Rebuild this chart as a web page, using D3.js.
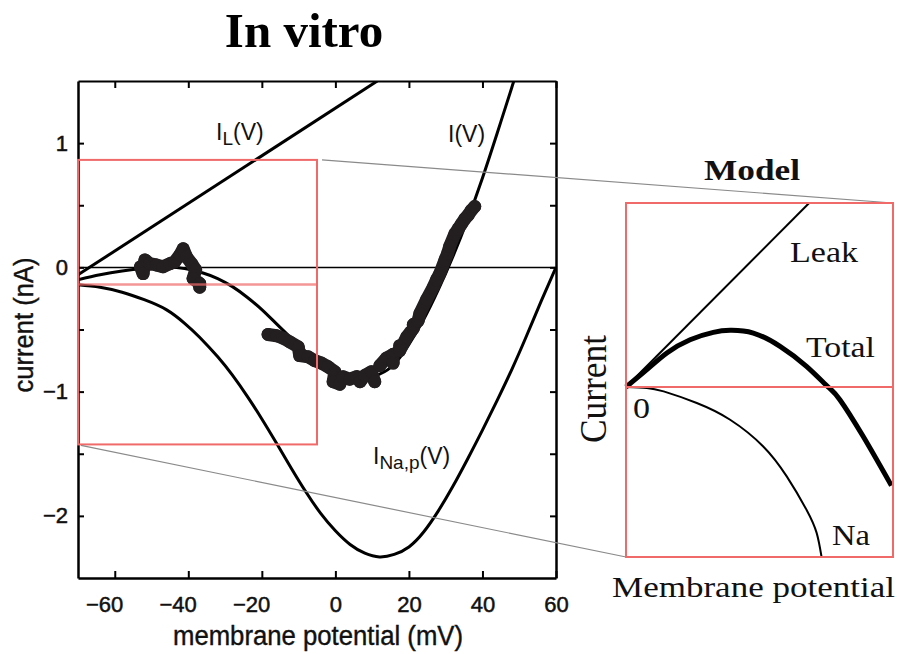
<!DOCTYPE html>
<html>
<head>
<meta charset="utf-8">
<script src="https://cdn.jsdelivr.net/npm/d3@7"></script>
<style>
body { margin: 0; background: #fff; }
svg { display: block; }
</style>
</head>
<body>
<div id="chart"></div>
<script>
// axis ticks
var xTicks = [-60, -40, -20, 0, 20, 40, 60];
var yTicks = [-2, -1.5, -1, -0.5, 0, 0.5, 1];

// leak current I_L(V), [mV, nA]
var leakCurve = [[-70, -0.06], [11.4, 1.5]];

// fitted steady-state I(V)
var totalCurve = [
  [-70, -0.10], [-64, -0.06], [-58, -0.03], [-52, -0.01], [-46, 0.0], [-41, -0.01],
  [-36, -0.045], [-32, -0.09], [-28, -0.155], [-24, -0.24], [-20, -0.34], [-16, -0.455],
  [-12, -0.57], [-8, -0.68], [-4, -0.77], [0, -0.84], [4, -0.88], [8, -0.89],
  [12, -0.86], [16, -0.78], [20, -0.62], [24, -0.42], [28, -0.18], [32, 0.09],
  [36, 0.39], [40, 0.72], [44, 1.08], [48, 1.45], [48.5, 1.5]
];

// persistent sodium current I_Na,p(V)
var naCurve = [
  [-70, -0.14], [-64, -0.16], [-58, -0.2], [-52, -0.26], [-46, -0.34], [-41, -0.45],
  [-37, -0.56], [-32, -0.72], [-28, -0.868], [-24, -1.036], [-20, -1.22], [-16, -1.416],
  [-12, -1.616], [-8, -1.808], [-4, -1.98], [0, -2.12], [4, -2.23], [8, -2.30],
  [12, -2.33], [16, -2.31], [20, -2.25], [24, -2.13], [28, -1.96], [32, -1.76],
  [36, -1.54], [40, -1.31], [44, -1.07], [48, -0.82], [52, -0.55], [56, -0.27], [60, 0.0]
];

// recorded ramp data (in vitro), in recording order
var rampData = [
  [-53.0, 0.005], [-52.3, -0.05], [-51.8, 0.06], [-50.5, 0.03], [-48.7, 0.02], [-46.9, 0.005],
  [-45.0, 0.03], [-43.7, 0.045], [-42.3, 0.10], [-41.4, 0.15], [-40.5, 0.085], [-39.1, 0.03],
  [-38.0, -0.02], [-38.7, -0.09], [-36.9, -0.13], [-36.9, -0.16],
  [-18.3, -0.54], [-16.0, -0.55], [-14.2, -0.57], [-12.4, -0.60], [-10.1, -0.64], [-9.7, -0.71],
  [-7.4, -0.72], [-5.6, -0.75], [-3.8, -0.77], [-2.0, -0.80], [-0.15, -0.84], [-0.6, -0.92],
  [1.2, -0.94], [2.1, -0.88], [3.9, -0.90], [5.8, -0.88], [6.7, -0.92], [8.0, -0.87],
  [9.8, -0.84], [10.7, -0.92], [12.1, -0.79], [13.9, -0.73], [15.7, -0.70], [15.7, -0.77],
  [17.5, -0.63], [17.5, -0.67], [19.4, -0.56], [21.2, -0.49], [21.2, -0.46], [22.5, -0.43],
  [23.0, -0.37], [24.8, -0.26], [26.6, -0.16], [27.5, -0.10], [28.4, -0.05], [29.8, 0.06],
  [30.5, 0.11], [31.1, 0.17], [32.5, 0.27], [33.4, 0.31], [34.3, 0.35], [35.2, 0.39],
  [36.1, 0.42], [37.0, 0.46], [37.9, 0.49]
];

// zoomed region (mV, nA)
var zoomV = [-70, -5];
var zoomI = [-1.425, 0.865];
var zoomLineI = -0.137;

// model inset, arbitrary units
var modelLeak = [[0, 0], [0.686, 1]];
var modelTotal = [
  [0, 0], [0.078, 0.094], [0.153, 0.185], [0.240, 0.257], [0.327, 0.297], [0.390, 0.308],
  [0.477, 0.293], [0.577, 0.221], [0.676, 0.112], [0.757, 0], [0.801, -0.069],
  [0.888, -0.268], [0.994, -0.536]
];
var modelNa = [
  [0, 0], [0.078, -0.005], [0.141, -0.024], [0.265, -0.087], [0.390, -0.178], [0.514, -0.323],
  [0.602, -0.486], [0.676, -0.667], [0.714, -0.793], [0.732, -0.92]
];

var width = 897, height = 654;
var sans = "'Liberation Sans', Arial, sans-serif";
var serif = "'Liberation Serif', 'Times New Roman', serif";
var red = "#f06a6a";

var svg = d3.select("#chart").append("svg")
    .attr("width", width)
    .attr("height", height);

var x = d3.scaleLinear().domain([-70, 60]).range([78, 556]);
var y = d3.scaleLinear().domain([-2.5, 1.5]).range([578, 81]);

var mx = d3.scaleLinear().domain([0, 1]).range([626, 893]);
var my = d3.scaleLinear().domain([-0.924, 1]).range([557, 203]);

svg.append("clipPath").attr("id", "plotclip")
  .append("rect")
    .attr("x", x(-70)).attr("y", y(1.5))
    .attr("width", x(60) - x(-70)).attr("height", y(-2.5) - y(1.5));

// title
svg.append("text")
    .attr("x", 304).attr("y", 47)
    .attr("text-anchor", "middle")
    .style("font-family", serif).style("font-weight", "bold").style("font-size", "49px")
    .text("In vitro");

// zero line
svg.append("line")
    .attr("x1", x(-70)).attr("x2", x(60))
    .attr("y1", y(0)).attr("y2", y(0))
    .style("stroke", "#000").style("stroke-width", 1.5);

// axes (inward ticks)
function styleAxis(g) {
  g.select(".domain").style("stroke", "#000").style("stroke-width", 2.5);
  g.selectAll(".tick line").style("stroke", "#000").style("stroke-width", 2);
}

function styleLabels(sel) {
  sel.style("font-family", sans).style("font-size", "22px")
     .style("fill", "#111").style("stroke", "#111").style("stroke-width", 0.5);
}

var fmt = function(d) { return d < 0 ? "\u2212" + Math.abs(d) : "" + d; };

var gBottom = svg.append("g")
    .attr("transform", "translate(0," + y(-2.5) + ")")
    .call(d3.axisBottom(x).tickValues(xTicks).tickSizeInner(-7).tickSizeOuter(0).tickFormat(fmt));
styleAxis(gBottom);
gBottom.selectAll("text")
    .attr("y", 34).attr("dy", null)
    .attr("text-anchor", function(d) { return d < 0 ? "end" : "middle"; })
    .attr("x", function(d) { return d < 0 ? 8 : 0; })
    .call(styleLabels);

var gTop = svg.append("g")
    .attr("transform", "translate(0," + y(1.5) + ")")
    .call(d3.axisTop(x).tickValues(xTicks).tickSizeInner(-7).tickSizeOuter(0).tickFormat(""));
styleAxis(gTop);
gTop.select(".domain").style("stroke-width", 2);

var gLeft = svg.append("g")
    .attr("transform", "translate(" + x(-70) + ",0)")
    .call(d3.axisLeft(y).tickValues(yTicks).tickSizeInner(-6).tickSizeOuter(0).tickPadding(10)
      .tickFormat(function(d) { return Number.isInteger(d) ? fmt(d) : ""; }));
styleAxis(gLeft);
gLeft.selectAll("text").call(styleLabels);

var gRight = svg.append("g")
    .attr("transform", "translate(" + x(60) + ",0)")
    .call(d3.axisRight(y).tickValues(yTicks).tickSizeInner(-6).tickSizeOuter(0).tickFormat(""));
styleAxis(gRight);

// axis titles
svg.append("text")
    .attr("x", 318).attr("y", 645)
    .attr("text-anchor", "middle")
    .attr("textLength", 290).attr("lengthAdjust", "spacingAndGlyphs")
    .style("font-family", sans).style("font-size", "27px").style("fill", "#111")
    .style("stroke", "#111").style("stroke-width", 0.4)
    .text("membrane potential (mV)");

svg.append("text")
    .attr("transform", "translate(33,325) rotate(-90)")
    .attr("text-anchor", "middle")
    .attr("textLength", 135).attr("lengthAdjust", "spacingAndGlyphs")
    .style("font-family", sans).style("font-size", "27px").style("fill", "#111")
    .style("stroke", "#111").style("stroke-width", 0.4)
    .text("current (nA)");

// curves
var line = d3.line()
    .x(function(d) { return x(d[0]); })
    .y(function(d) { return y(d[1]); })
    .curve(d3.curveNatural);

var plot = svg.append("g").attr("clip-path", "url(#plotclip)");

plot.selectAll(".curve")
    .data([leakCurve, totalCurve, naCurve])
  .enter().append("path")
    .attr("class", "curve")
    .attr("d", line)
    .style("fill", "none").style("stroke", "#000").style("stroke-width", 3);

// ramp data: thick band joining neighbouring samples, plus the samples
var band = d3.path();
rampData.forEach(function(d, i) {
  var px = x(d[0]), py = y(d[1]);
  if (i > 0) {
    var q = rampData[i - 1];
    var gap = Math.hypot(px - x(q[0]), py - y(q[1]));
    if (gap < 16) { band.lineTo(px, py); return; }
  }
  band.moveTo(px, py);
});
plot.append("path")
    .attr("d", band.toString())
    .style("fill", "none").style("stroke", "#231f20").style("stroke-width", 13)
    .style("stroke-linejoin", "round").style("stroke-linecap", "round");

plot.selectAll(".ramp")
    .data(rampData)
  .enter().append("circle")
    .attr("class", "ramp")
    .attr("cx", function(d) { return x(d[0]); })
    .attr("cy", function(d) { return y(d[1]); })
    .attr("r", 6.5)
    .style("fill", "#231f20");

// curve labels
function subLabel(px, py, main, sub, tail) {
  var t = svg.append("text")
      .attr("x", px).attr("y", py)
      .style("font-family", sans).style("font-size", "23px").style("fill", "#111");
  t.append("tspan").text(main);
  if (sub) {
    t.append("tspan").attr("dy", 5).style("font-size", "19px").text(sub);
    t.append("tspan").attr("dy", -5).text(tail);
  }
  return t;
}
subLabel(216, 140, "I", "L", "(V)");
subLabel(448, 142, "I(V)");
subLabel(373, 464, "I", "Na,p", "(V)");

// zoom box in main plot
svg.append("rect")
    .attr("x", x(zoomV[0])).attr("y", y(zoomI[1]))
    .attr("width", x(zoomV[1]) - x(zoomV[0]))
    .attr("height", y(zoomI[0]) - y(zoomI[1]))
    .style("fill", "none").style("stroke", red).style("stroke-width", 2);
svg.append("line")
    .attr("x1", x(zoomV[0])).attr("x2", x(zoomV[1]))
    .attr("y1", y(zoomLineI)).attr("y2", y(zoomLineI))
    .style("stroke", red).style("stroke-width", 2.5).style("opacity", 0.7);

// connector lines to the model inset
svg.append("line")
    .attr("x1", x(zoomV[1]) + 5).attr("y1", y(zoomI[1]))
    .attr("x2", mx(1)).attr("y2", my(1))
    .style("stroke", "#8a8a8a").style("stroke-width", 1.2);
svg.append("line")
    .attr("x1", x(zoomV[0]) + 3).attr("y1", y(zoomI[0]) + 1)
    .attr("x2", mx(0)).attr("y2", my(-0.924))
    .style("stroke", "#8a8a8a").style("stroke-width", 1.2);

// model inset
var mline = d3.line()
    .x(function(d) { return mx(d[0]); })
    .y(function(d) { return my(d[1]); })
    .curve(d3.curveNatural);

svg.append("path").attr("d", mline(modelLeak))
    .style("fill", "none").style("stroke", "#000").style("stroke-width", 2);
svg.append("path").attr("d", mline(modelNa))
    .style("fill", "none").style("stroke", "#000").style("stroke-width", 2);
svg.append("path").attr("d", mline(modelTotal))
    .style("fill", "none").style("stroke", "#000").style("stroke-width", 5);

svg.append("rect")
    .attr("x", mx(0)).attr("y", my(1))
    .attr("width", mx(1) - mx(0)).attr("height", my(-0.924) - my(1))
    .style("fill", "none").style("stroke", red).style("stroke-width", 2);
svg.append("line")
    .attr("x1", mx(0)).attr("x2", mx(1))
    .attr("y1", my(0)).attr("y2", my(0))
    .style("stroke", red).style("stroke-width", 2);

function modelText(px, py, txt, len, bold) {
  svg.append("text")
      .attr("x", px).attr("y", py)
      .attr("textLength", len).attr("lengthAdjust", "spacingAndGlyphs")
      .style("font-family", serif).style("font-size", bold ? "29px" : "30px")
      .style("font-weight", bold ? "bold" : "normal").style("fill", "#111")
      .text(txt);
}
modelText(704, 180, "Model", 96, true);
modelText(790, 262, "Leak", 68);
modelText(806, 357, "Total", 69);
modelText(832, 545, "Na", 38);
modelText(633, 418, "0", 17);
modelText(612, 597, "Membrane potential", 283);

svg.append("text")
    .attr("transform", "translate(606,389) rotate(-90) scale(1,1.25)")
    .attr("text-anchor", "middle")
    .attr("textLength", 108).attr("lengthAdjust", "spacingAndGlyphs")
    .style("font-family", serif).style("font-size", "30px").style("fill", "#111")
    .text("Current");
</script>
</body>
</html>
